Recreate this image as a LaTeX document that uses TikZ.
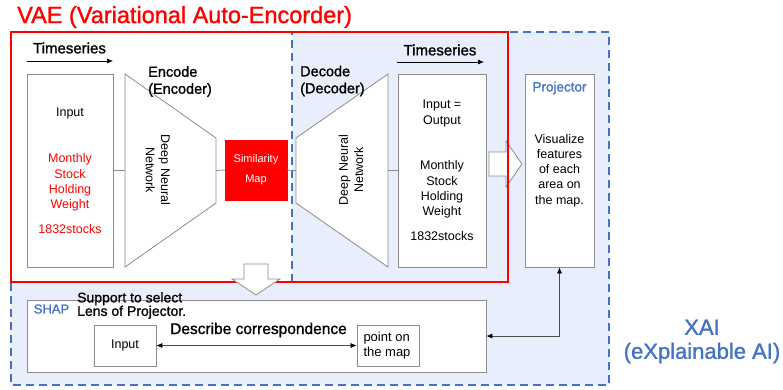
\documentclass[tikz,border=0pt]{standalone}
\usepackage{fontspec}
\setmainfont{Liberation Sans}
\newfontfamily\headfont{Liberation Sans}[FakeBold=1.2]
\usepackage{xcolor}
\definecolor{ColBlack}{RGB}{0,0,0}
\definecolor{ColRed}{RGB}{255,0,0}
\definecolor{ColBlue}{RGB}{68,114,196}
\definecolor{ColBlueBack}{RGB}{232,238,252}
\definecolor{ColGrey}{RGB}{140,140,140}
\usepackage{tikz}
\usetikzlibrary{arrows.meta}
\tikzstyle{Box}=[draw=ColGrey,fill=white,line width=0.8pt,inner sep=0pt]
\tikzstyle{Block}=[draw=ColGrey,fill=white,line width=0.8pt]
\tikzstyle{Txt}=[inner sep=0pt,align=center,
    font=\fontsize{12.5}{15.2}\selectfont]
\tikzstyle{Head}=[inner sep=0pt,align=left,
    font=\headfont\fontsize{14.5}{17}\selectfont]
\tikzstyle{Link}=[ColGrey,draw,line width=0.8pt]
\tikzstyle{Map}=[ColBlack!100,draw,line width=0.6pt,
    -{Latex[length=6,width=5]}]
\tikzstyle{Injection}=[ColBlack!70,draw,line width=0.6pt,
    {Latex[length=6,width=5,color=ColBlack]}-{Latex[length=6,width=5,color=ColBlack]}]

\begin{document}
\begin{tikzpicture}[x=1pt,y=-1pt]
        \useasboundingbox(0,0)rectangle(783,389);
        % XAI area
        \fill[ColBlueBack](292,32)--(609,32)--(609,385)--(11,385)--(11,282)
            --(292,282)--cycle;
        \draw[ColBlue,line width=2pt,dash pattern=on 8pt off 5pt]
            (292,282)--(292,32)--(609,32)--(609,385)--(11,385)--(11,282);
        \draw[Block](489,152)--(506,152)--(506,141)--(522,164)--(506,187)
            --(506,176)--(489,176)--cycle;
        % VAE area
        \draw[ColRed,line width=2pt](11,32)rectangle(508,282);
        \node[anchor=west,inner sep=0pt,text=ColRed,
            font=\headfont\fontsize{23.5}{26}\selectfont](VAE)at(17,17)
            {VAE (Variational Auto-Encorder)};
        \draw[Block](244,264)--(268,264)--(268,279)--(280,279)--(256,295)
            --(232,279)--(244,279)--cycle;
        % boxes
        \node[Box,minimum width=86,minimum height=193](In)at(70,170.5){};
        \node[Box,minimum width=88,minimum height=193](Out)at(442,170.5){};
        \node[Box,minimum width=69,minimum height=193](Proj)at(559.5,170.5){};
        \node[Box,minimum width=459,minimum height=72](Shap)at(256.5,336){};
        \node[Box,minimum width=62,minimum height=41](SIn)at(125,345.5){};
        \node[Box,minimum width=62,minimum height=41](Pt)at(388,345.5){};
        \node[draw=ColRed,fill=ColRed,inner sep=0pt,minimum width=62,
            minimum height=60](Sim)at(256,170){};
        \draw[Block](125,74)--(216,138)--(216,203)--(125,267)--cycle;
        \draw[Block](296,138)--(388,74)--(388,267)--(296,203)--cycle;
        \coordinate(EncL)at(125,170.5);
        \coordinate(EncR)at(216,170.5);
        \coordinate(DecL)at(296,170.5);
        \coordinate(DecR)at(388,170.5);
        \draw[Link](In.east)--(EncL);
        \draw[Link](EncR)--(Sim.west);
        \draw[Link](Sim.east)--(DecL);
        \draw[Link](DecR)--(Out.west);
        % time axes
        \coordinate(TsInA)at(27,61);
        \coordinate(TsInB)at(113,61);
        \coordinate(TsOutA)at(397,62);
        \coordinate(TsOutB)at(484,62);
        \draw[Map](TsInA)--(TsInB);
        \draw[Map](TsOutA)--(TsOutB);
        \node[Head,font=\headfont\fontsize{15}{17}\selectfont](TsIn)
            at(69.5,48){Timeseries};
        \node[Head,font=\headfont\fontsize{15}{17}\selectfont](TsOut)
            at(440,50){Timeseries};
        % texts
        \node[Txt](InName)at(70,113){Input};
        \node[Txt,text=ColRed](InData)at(70,182.5)
            {Monthly\\Stock\\Holding\\Weight};
        \node[Txt,text=ColRed](InNum)at(70,229){1832stocks};
        \node[Head,anchor=west](Enc)at(148,81.5){Encode\\(Encoder)};
        \node[Head,anchor=west](Dec)at(300,81){Decode\\(Decoder)};
        \node[Txt,rotate=-90](EncNet)at(158,170){Deep Neural\\Network};
        \node[Txt,rotate=90](DecNet)at(351,170){Deep Neural\\Network};
        \node[Txt,text=white,font=\fontsize{11}{20}\selectfont](SimName)
            at(256,170){Similarity\\Map};
        \node[Txt](OutName)at(442,113.5){Input =\\Output};
        \node[Txt](OutData)at(442,189.5){Monthly\\Stock\\Holding\\Weight};
        \node[Txt](OutNum)at(442,236){1832stocks};
        \node[Txt,text=ColBlue,font=\headfont\fontsize{13.5}{16}\selectfont]
            (ProjName)at(559.5,88){Projector};
        \node[Txt](ProjText)at(559.5,170.5)
            {Visualize\\features\\of each\\area on\\the map.};
        \node[Txt,text=ColBlue,font=\headfont\fontsize{13}{16}\selectfont]
            (ShapName)at(51.5,309){SHAP};
        \node[Head,anchor=west,font=\headfont\fontsize{14}{13.5}\selectfont]
            (ShapText)at(77,305.5){Support to select\\Lens of Projector.};
        \node[Head,font=\headfont\fontsize{15.5}{18}\selectfont](Corr)
            at(258.5,330){Describe correspondence};
        \node[Txt](SInName)at(125,345.5){Input};
        \node[Txt,align=left,font=\fontsize{13}{15.5}\selectfont](PtName)
            at(387,345.5){point on\\the map};
        \draw[Injection](SIn.east)--(Pt.west);
        \draw[Injection](Shap.east)-|(Proj.south);
        \node[Txt,text=ColBlue,font=\headfont\fontsize{22}{24}\selectfont](XAI)
            at(702,341.5){XAI\\(eXplainable AI)};
    \end{tikzpicture}
\end{document}
